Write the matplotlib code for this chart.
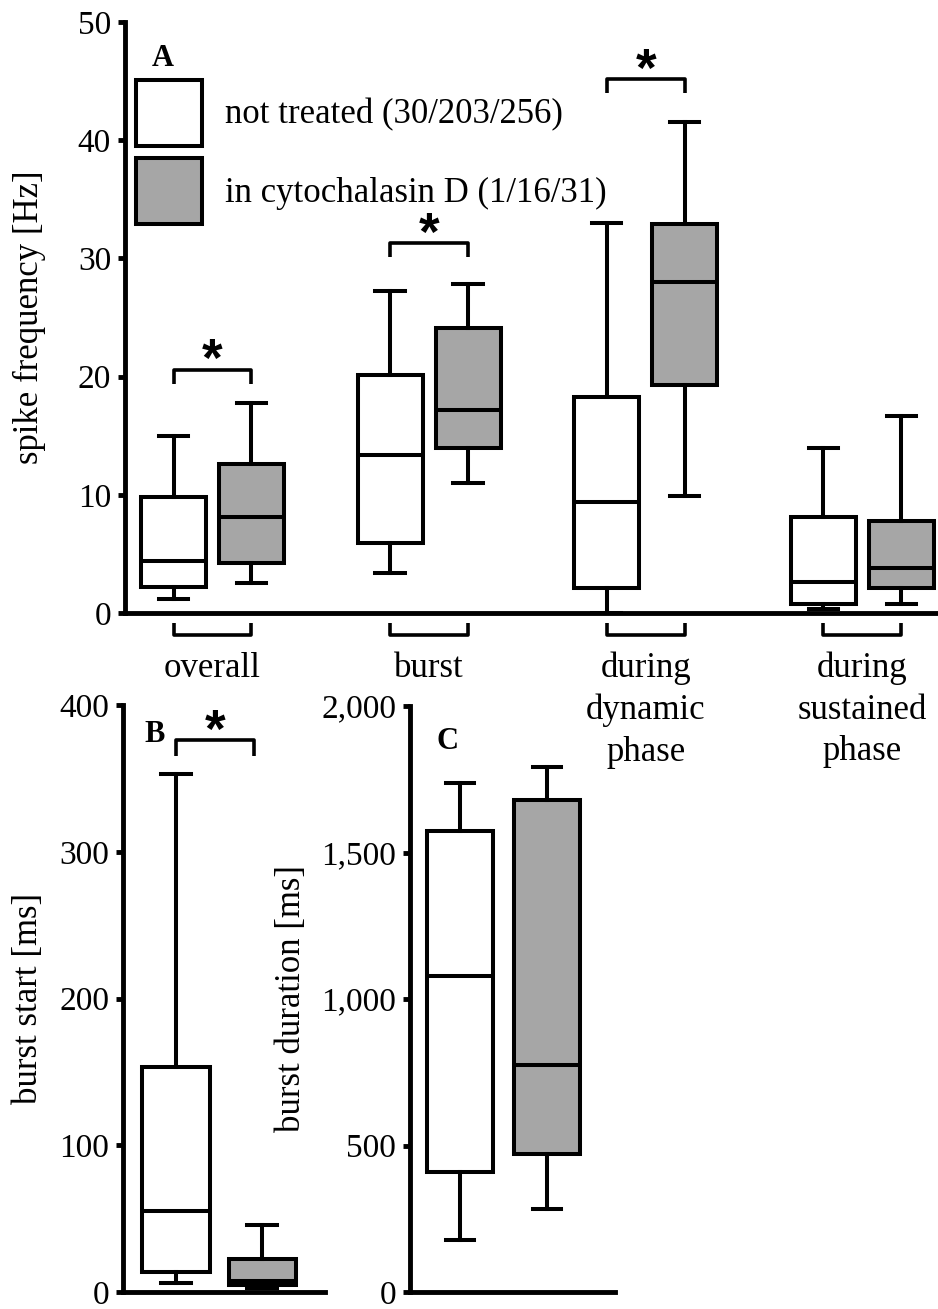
"""
Spike frequency, burst start and burst duration of untreated cells
versus cells in cytochalasin D, drawn as box plots (panels A-C).
"""

import matplotlib
matplotlib.use("Agg")
import matplotlib.pyplot as plt
from matplotlib.patches import Patch
from matplotlib.ticker import StrMethodFormatter

plt.rcParams['font.family'] = ['Liberation Serif', 'DejaVu Serif']
plt.rcParams['font.size'] = 25

# ============================== data =========================================

GROUPS = ["overall", "burst", "during\ndynamic\nphase",
          "during\nsustained\nphase"]
LABEL_CTRL = "not treated (30/203/256)"
LABEL_CYTO = "in cytochalasin D (1/16/31)"

# panel A: spike frequency [Hz]
A_CTRL_LO = [1.2, 3.4, 0.0, 0.3]
A_CTRL_Q1 = [2.2, 5.9, 2.1, 0.75]
A_CTRL_MED = [4.4, 13.4, 9.4, 2.6]
A_CTRL_Q3 = [9.8, 20.1, 18.3, 8.1]
A_CTRL_HI = [15.0, 27.2, 33.0, 14.0]

A_CYTO_LO = [2.5, 11.0, 9.9, 0.75]
A_CYTO_Q1 = [4.2, 14.0, 19.3, 2.1]
A_CYTO_MED = [8.1, 17.2, 28.0, 3.8]
A_CYTO_Q3 = [12.6, 24.1, 32.9, 7.8]
A_CYTO_HI = [17.8, 27.8, 41.5, 16.7]

# height of the significance bracket per group (None = not significant)
A_SIG_Y = [20.6, 31.3, 45.2, None]

# panel B: burst start [ms], not treated / cytochalasin D
B_LO = [6, 2.5]
B_Q1 = [13.5, 5]
B_MED = [55, 7.5]
B_Q3 = [153, 22.5]
B_HI = [353, 45.5]
B_SIG_Y = 376

# panel C: burst duration [ms], not treated / cytochalasin D
C_LO = [176, 282]
C_Q1 = [411, 472]
C_MED = [1077, 775]
C_Q3 = [1575, 1680]
C_HI = [1737, 1792]

# ============================== style ========================================

GRAY = "#a6a6a6"
LW_BOX = 2.9
LW_AXIS = 3.5
LW_BRACKET = 2.6
FS = 25
FS_TICK = 24
FIG_W, FIG_H = 938, 1309


def stats(lo, q1, med, q3, hi):
    return [dict(whislo=a, q1=b, med=c, q3=d, whishi=e, fliers=[])
            for a, b, c, d, e in zip(lo, q1, med, q3, hi)]


def draw_boxes(ax, st, pos, color, width, capwidth):
    ax.bxp(st, positions=pos, widths=width, capwidths=capwidth,
           patch_artist=True, showfliers=False, manage_ticks=False,
           boxprops=dict(facecolor=color, edgecolor="black",
                         linewidth=LW_BOX, joinstyle="miter"),
           medianprops=dict(color="black", linewidth=LW_BOX),
           whiskerprops=dict(color="black", linewidth=LW_BOX),
           capprops=dict(color="black", linewidth=LW_BOX))


def draw_pair(ax, lo, q1, med, q3, hi, width, capwidth):
    # first entry is the untreated box, second the cytochalasin D one
    for i, color in enumerate(["white", GRAY]):
        sl = slice(i, i + 1)
        draw_boxes(ax, stats(lo[sl], q1[sl], med[sl], q3[sl], hi[sl]),
                   [i + 1], color, width, capwidth)


def bracket(ax, x1, x2, y, h, star=True):
    # h > 0 draws the legs downwards, h < 0 upwards
    ax.plot([x1, x1, x2, x2], [y - h, y, y, y - h], color="black",
            lw=LW_BRACKET, clip_on=False, solid_joinstyle="round",
            solid_capstyle="butt")
    if star:
        ax.annotate("*", xy=((x1 + x2) / 2, y), xytext=(0, -5),
                    textcoords="offset points", ha="center", va="baseline",
                    fontsize=38, fontweight="bold", family="Liberation Sans",
                    annotation_clip=False)


def style_axis(ax, ymax, step):
    ax.patch.set_visible(False)
    for side in ("top", "right"):
        ax.spines[side].set_visible(False)
    for side in ("left", "bottom"):
        ax.spines[side].set_linewidth(LW_AXIS)
    ax.set_ylim(0, ymax)
    ax.set_yticks(range(0, ymax + 1, step))
    ax.tick_params(axis="y", direction="out", length=5, width=LW_AXIS,
                   pad=5, labelsize=FS_TICK)
    ax.tick_params(axis="x", length=0)


def rect(left, top, right, bottom):
    return [left / FIG_W, 1 - bottom / FIG_H, (right - left) / FIG_W,
            (bottom - top) / FIG_H]


def main():
    fig = plt.figure(figsize=(FIG_W / 100, FIG_H / 100), dpi=100)

    # ---------- panel A ----------
    ax = fig.add_axes(rect(125, 22, 938, 613))
    centers = list(range(1, len(GROUPS) + 1))
    off = 0.18
    pos_ctrl = [c - off for c in centers]
    pos_cyto = [c + off for c in centers]
    draw_boxes(ax, stats(A_CTRL_LO, A_CTRL_Q1, A_CTRL_MED, A_CTRL_Q3,
                         A_CTRL_HI), pos_ctrl, "white", 0.30, 0.135)
    draw_boxes(ax, stats(A_CYTO_LO, A_CYTO_Q1, A_CYTO_MED, A_CYTO_Q3,
                         A_CYTO_HI), pos_cyto, GRAY, 0.30, 0.135)
    style_axis(ax, 50, 10)
    ax.set_xlim(0.596, 4.35)
    ax.set_xticks(centers)
    ax.set_xticklabels(GROUPS, fontsize=FS, linespacing=1.33)
    ax.tick_params(axis="x", pad=28)
    ax.set_ylabel("spike frequency [Hz]", fontsize=FS)
    ax.yaxis.set_label_coords(-0.097, 0.5)

    # significance brackets above, group brackets below the axis
    for i, sig_y in enumerate(A_SIG_Y):
        if sig_y is not None:
            bracket(ax, pos_ctrl[i], pos_cyto[i], sig_y, 1.2)
        bracket(ax, pos_ctrl[i], pos_cyto[i], -1.85, -1.0, star=False)

    ax.text(0.047, 0.938, "A", transform=ax.transAxes, ha="center",
            va="center", fontsize=22, fontweight="bold")
    handles = [Patch(facecolor="white", edgecolor="black", linewidth=LW_BOX),
               Patch(facecolor=GRAY, edgecolor="black", linewidth=LW_BOX)]
    ax.legend(handles, [LABEL_CTRL, LABEL_CYTO], loc="upper left",
              bbox_to_anchor=(0.0135, 0.902), frameon=False, fontsize=FS,
              handlelength=1.90, handleheight=2.55, handletextpad=0.66,
              labelspacing=0.35, borderpad=0, borderaxespad=0)

    # ---------- panel B ----------
    ax = fig.add_axes(rect(123, 705, 325, 1292))
    draw_pair(ax, B_LO, B_Q1, B_MED, B_Q3, B_HI, 0.78, 0.35)
    style_axis(ax, 400, 100)
    ax.set_xlim(0.384, 2.73)
    ax.set_xticks([])
    ax.set_ylabel("burst start [ms]", fontsize=FS)
    ax.yaxis.set_label_coords(-0.385, 0.5)
    bracket(ax, 1, 1.9, B_SIG_Y, 11)
    ax.text(0.158, 0.949, "B", transform=ax.transAxes, ha="center",
            va="center", fontsize=22, fontweight="bold")

    # ---------- panel C ----------
    ax = fig.add_axes(rect(410, 706, 615, 1292))
    draw_pair(ax, C_LO, C_Q1, C_MED, C_Q3, C_HI, 0.76, 0.33)
    style_axis(ax, 2000, 500)
    ax.yaxis.set_major_formatter(StrMethodFormatter("{x:,.0f}"))
    ax.set_xlim(0.425, 2.78)
    ax.set_xticks([])
    ax.set_ylabel("burst duration [ms]", fontsize=FS)
    ax.yaxis.set_label_coords(-0.497, 0.5)
    ax.text(0.185, 0.94, "C", transform=ax.transAxes, ha="center",
            va="center", fontsize=22, fontweight="bold")

    fig.savefig("out.png", dpi=100)


if __name__ == '__main__':
    main()
